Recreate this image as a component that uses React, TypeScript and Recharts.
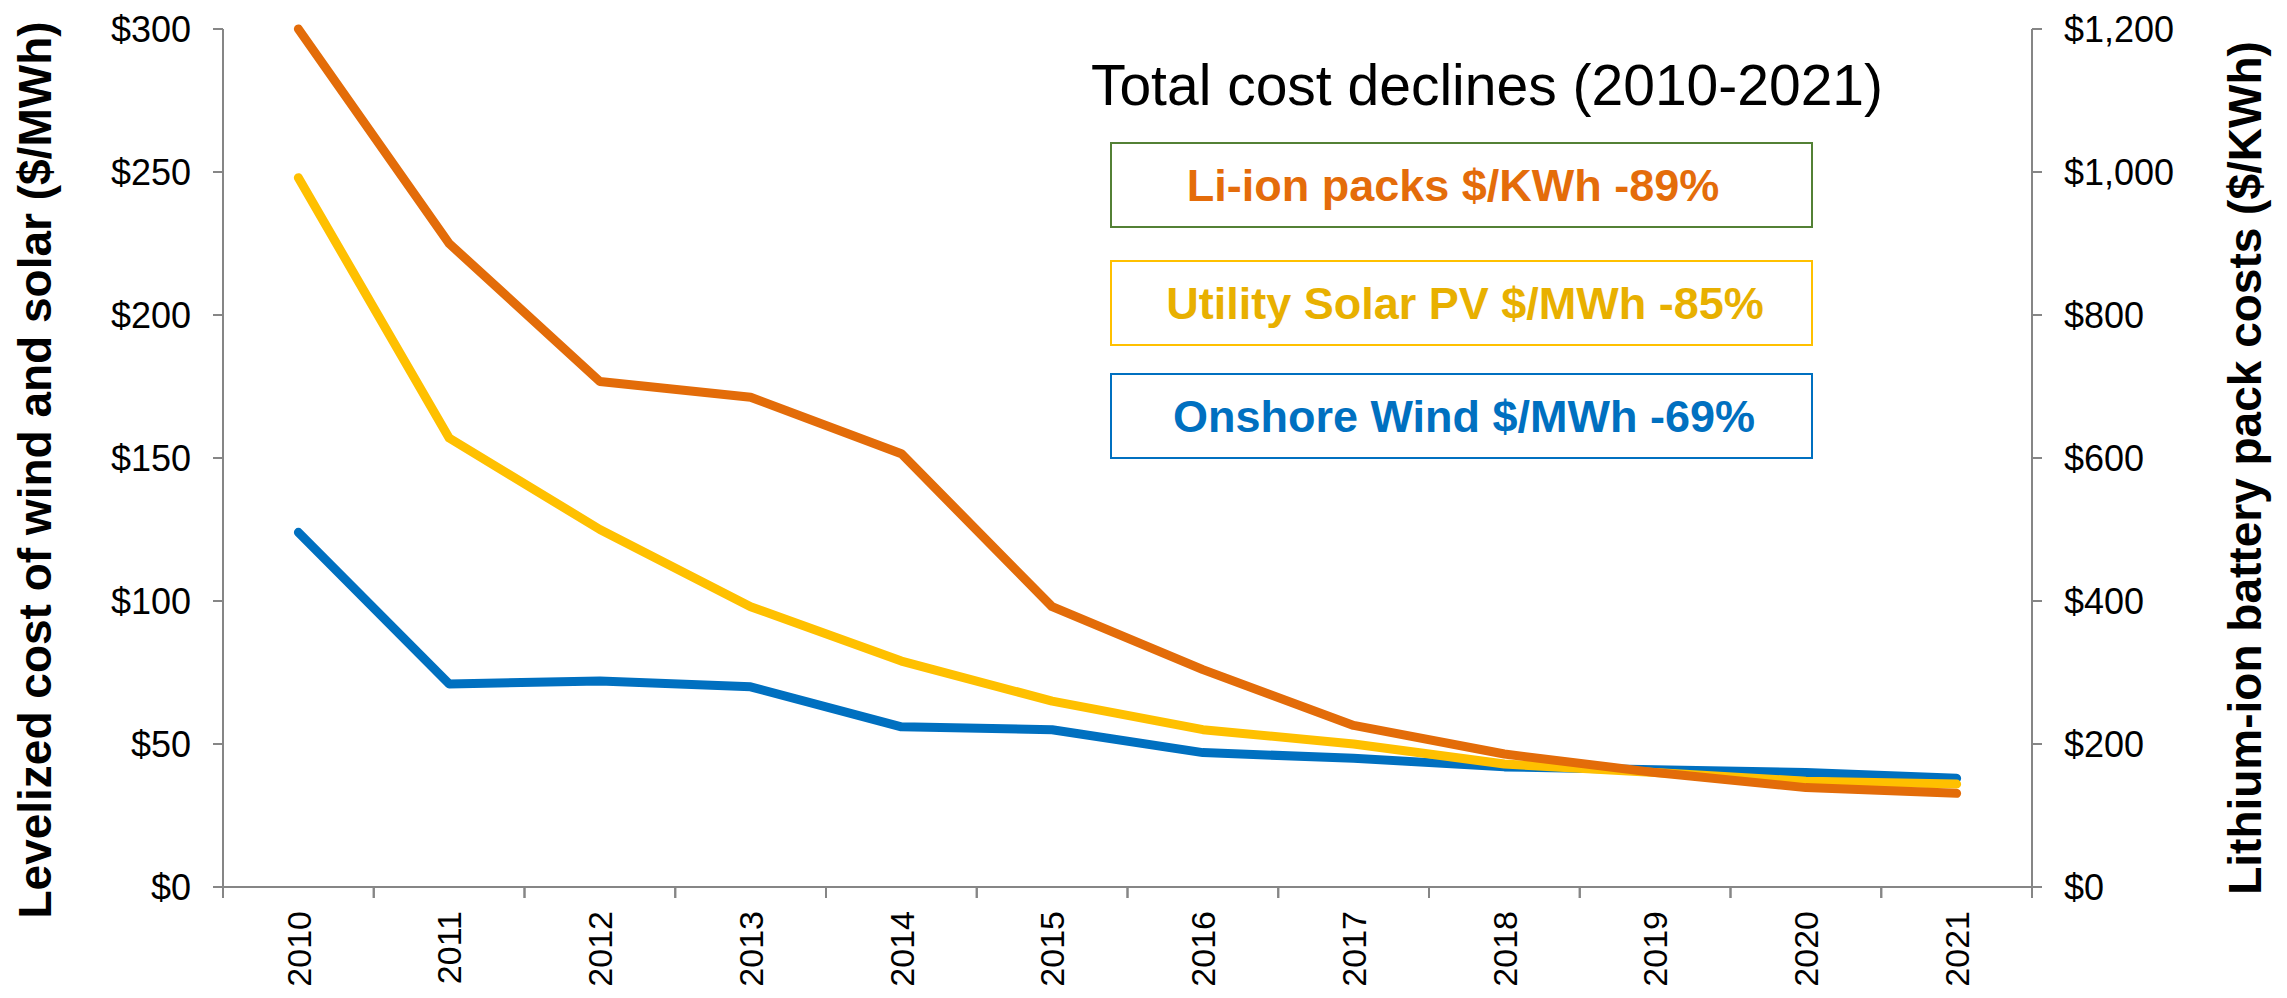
import { LineChart, Line, XAxis, YAxis, Label } from "recharts";

const years = ["2010", "2011", "2012", "2013", "2014", "2015", "2016", "2017", "2018", "2019", "2020", "2021"];
// $/MWh, left axis
const windLcoe = [124, 71, 72, 70, 56, 55, 47, 45, 42, 41, 40, 38];
const solarLcoe = [248, 157, 125, 98, 79, 65, 55, 50, 43, 40, 37, 36];
// $/KWh, right axis
const liionPacks = [1200, 900, 707, 685, 606, 392, 304, 226, 186, 160, 139, 131];

const leftTicks = [0, 50, 100, 150, 200, 250, 300];
const rightTicks = [0, 200, 400, 600, 800, 1000, 1200];

const declines = [
  { text: "Li-ion packs $/KWh -89%", color: "#E46C0A", border: "#538135" },
  { text: "Utility Solar PV $/MWh -85%", color: "#E8B000", border: "#FFC000" },
  { text: "Onshore Wind $/MWh -69%", color: "#0070C0", border: "#0070C0" },
];

const colors = {
  wind: "#0070C0",
  solar: "#FFC000",
  liion: "#E36C09",
  axis: "#868686",
};

const FONT = "'Liberation Sans', Arial, sans-serif";
const W = 2271;
const H = 982;

const data = years.map((year, i) => ({
  year,
  wind: windLcoe[i],
  solar: solarLcoe[i],
  liion: liionPacks[i],
}));

function YearTick(props: any) {
  const { x, y, payload } = props;
  const half = payload && payload.offset ? payload.offset : 75.4;
  return (
    <g>
      <line x1={x - half} x2={x - half} y1={y} y2={y + 11} stroke={colors.axis} strokeWidth={2} />
      <line x1={x + half} x2={x + half} y1={y} y2={y + 11} stroke={colors.axis} strokeWidth={2} />
      <text
        transform={`translate(${x},${y + 24}) rotate(-90)`}
        textAnchor="end"
        dy="0.36em"
        fontSize={34}
        fill="#000"
      >
        {payload.value}
      </text>
    </g>
  );
}

function axisTitle(text: string, dx: number, dy: number) {
  return (props: any) => {
    const vb = props.viewBox || { x: 0, y: 0, width: 0, height: 0 };
    const cx = vb.x + dx;
    const cy = vb.y + vb.height / 2 + dy;
    return (
      <text
        transform={`translate(${cx},${cy}) rotate(-90)`}
        textAnchor="middle"
        dy="0.36em"
        fontSize={46}
        fontWeight="bold"
        fill="#000"
      >
        {text}
      </text>
    );
  };
}

export default function App() {
  return (
    <div style={{ position: "relative", width: W, height: H, fontFamily: FONT }}>
      <LineChart
        width={W}
        height={H}
        data={data}
        margin={{ top: 21, right: 0, bottom: 0, left: 0 }}
        style={{ fontFamily: FONT, overflow: "visible" }}
      >
        <XAxis
          dataKey="year"
          scale="band"
          height={103}
          interval={0}
          tickLine={false}
          tickSize={0}
          tickMargin={0}
          axisLine={{ stroke: colors.axis, strokeWidth: 2 }}
          tick={<YearTick />}
        />
        <YAxis
          yAxisId="left"
          width={215}
          domain={[0, 300]}
          ticks={leftTicks}
          interval={0}
          tickFormatter={(v: number) => `$${v}`}
          tick={{ fontSize: 36, fill: "#000" }}
          tickSize={10}
          tickMargin={22}
          axisLine={{ stroke: colors.axis, strokeWidth: 2 }}
          tickLine={{ stroke: colors.axis, strokeWidth: 2 }}
        >
          <Label content={axisTitle("Levelized cost of wind and solar ($/MWh)", 26.5, 12)} />
        </YAxis>
        <YAxis
          yAxisId="right"
          orientation="right"
          width={247}
          domain={[0, 1200]}
          ticks={rightTicks}
          interval={0}
          tickFormatter={(v: number) => `$${v.toLocaleString("en-US")}`}
          tick={{ fontSize: 36, fill: "#000" }}
          tickSize={10}
          tickMargin={22}
          axisLine={{ stroke: colors.axis, strokeWidth: 2 }}
          tickLine={{ stroke: colors.axis, strokeWidth: 2 }}
        >
          <Label content={axisTitle("Lithium-ion battery pack costs ($/KWh)", 212.5, 10)} />
        </YAxis>
        <Line
          yAxisId="left"
          type="linear"
          dataKey="wind"
          stroke={colors.wind}
          strokeWidth={9}
          strokeLinecap="round"
          strokeLinejoin="round"
          dot={false}
          activeDot={false}
          isAnimationActive={false}
        />
        <Line
          yAxisId="left"
          type="linear"
          dataKey="solar"
          stroke={colors.solar}
          strokeWidth={9}
          strokeLinecap="round"
          strokeLinejoin="round"
          dot={false}
          activeDot={false}
          isAnimationActive={false}
        />
        <Line
          yAxisId="right"
          type="linear"
          dataKey="liion"
          stroke={colors.liion}
          strokeWidth={9}
          strokeLinecap="round"
          strokeLinejoin="round"
          dot={false}
          activeDot={false}
          isAnimationActive={false}
        />
      </LineChart>

      {/* title and the three decline boxes */}
      <svg
        width={W}
        height={H}
        style={{ position: "absolute", left: 0, top: 0, pointerEvents: "none", fontFamily: FONT }}
      >
        <text x={1479} y={97} textAnchor="middle" fontSize={57} fill="#000">
          Total cost declines (2010-2021)
        </text>
        {declines.map((d, i) => {
          const top = [135, 253, 366][i];
          const mid = [1445, 1457, 1456][i];
          return (
            <g key={d.text}>
              <rect x={1103} y={top} width={701} height={84} fill="#fff" stroke={d.border} strokeWidth={2} />
              <text
                x={mid}
                y={top + 42}
                dy="0.36em"
                textAnchor="middle"
                fontSize={45}
                fontWeight="bold"
                fill={d.color}
              >
                {d.text}
              </text>
            </g>
          );
        })}
      </svg>
    </div>
  );
}
